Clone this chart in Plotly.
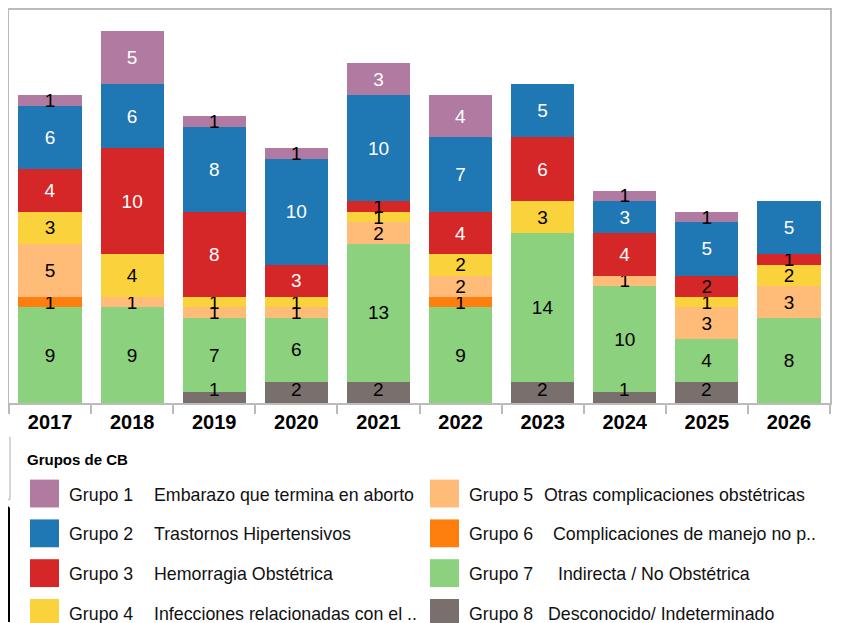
import plotly.graph_objects as go

years = ["2017", "2018", "2019", "2020", "2021", "2022", "2023", "2024", "2025", "2026"]

grupo1 = [1, 5, 1, 1, 3, 4, 0, 1, 1, 0]
grupo2 = [6, 6, 8, 10, 10, 7, 5, 3, 5, 5]
grupo3 = [4, 10, 8, 3, 1, 4, 6, 4, 2, 1]
grupo4 = [3, 4, 1, 1, 1, 2, 3, 0, 1, 2]
grupo5 = [5, 1, 1, 1, 2, 2, 0, 1, 3, 3]
grupo6 = [1, 0, 0, 0, 0, 1, 0, 0, 0, 0]
grupo7 = [9, 9, 7, 6, 13, 9, 14, 10, 4, 8]
grupo8 = [0, 0, 1, 2, 2, 0, 2, 1, 2, 0]

group_names = ["Grupo 1", "Grupo 2", "Grupo 3", "Grupo 4",
               "Grupo 5", "Grupo 6", "Grupo 7", "Grupo 8"]
group_desc = ["Embarazo que termina en aborto", "Trastornos Hipertensivos",
              "Hemorragia Obstétrica", "Infecciones relacionadas con el ..",
              "Otras complicaciones obstétricas", "Complicaciones de manejo no p..",
              "Indirecta / No Obstétrica", "Desconocido/ Indeterminado"]
legend_title = "Grupos de CB"

series = [grupo1, grupo2, grupo3, grupo4, grupo5, grupo6, grupo7, grupo8]
colors = ["#B07AA1", "#1F77B4", "#D62728", "#F9D23C",
          "#FFBB78", "#FF7F0E", "#8CD17D", "#79706E"]
dark = [True, True, True, False, False, False, False, False]

FONT = "Arial, Liberation Sans, sans-serif"

fig = go.Figure()
# stack from bottom: Grupo 8 ... Grupo 1
for i in reversed(range(8)):
    vals = series[i]
    if i == 7:
        txt = [""] * len(vals)  # bottom-segment labels drawn as annotations on top
    else:
        txt = [str(v) if v else "" for v in vals]
    tcol = [("white" if (dark[i] and v >= 3) else "black") for v in vals]
    fig.add_trace(go.Bar(
        x=years, y=vals, name=group_names[i], marker_color=colors[i],
        marker_line_width=0, text=txt, textposition="inside", textangle=0,
        insidetextanchor="middle", constraintext="none",
        textfont=dict(family=FONT, size=19, color=tcol),
        showlegend=False, hoverinfo="skip", cliponaxis=False,
    ))

# page body has an 8px margin: figure sits at (8, 8) in the screenshot
OFF = 8
W, H = 850 - OFF, 623 - OFF
L, R, T, B = 9 - OFF, 830 - OFF, 0, 403 - OFF


def px(x):
    return (x - OFF - L) / (R - L)


def py(y):
    return (B - (y - OFF)) / (B - T)


shapes = []
annotations = []

# labels of the bottom (Grupo 8) segments, kept inside the plot area
# (category axis: annotation x uses the category's serial number)
for j, v in enumerate(grupo8):
    if v:
        annotations.append(dict(text=str(v), x=j, y=0, xref="x", yref="y",
                                xanchor="center", yanchor="bottom", yshift=1,
                                showarrow=False,
                                font=dict(family=FONT, size=19, color="black")))

# fragments on the left below plot
shapes.append(dict(type="line", xref="paper", yref="paper", x0=px(10), x1=px(10),
                   y0=py(437), y1=py(500), line=dict(color="#C8C8C8", width=1.5)))
shapes.append(dict(type="line", xref="paper", yref="paper", x0=px(8), x1=px(10),
                   y0=py(500), y1=py(500), line=dict(color="#C8C8C8", width=1.5)))
shapes.append(dict(type="line", xref="paper", yref="paper", x0=px(8), x1=px(9),
                   y0=py(508), y1=py(508), line=dict(color="black", width=2)))
shapes.append(dict(type="line", xref="paper", yref="paper", x0=px(9), x1=px(9),
                   y0=py(508), y1=py(623), line=dict(color="black", width=2)))

annotations.append(dict(text="<b>" + legend_title + "</b>", xref="paper", yref="paper",
                        x=px(25), y=py(460), xanchor="left", yanchor="middle",
                        showarrow=False, font=dict(family=FONT, size=15, color="black")))

row_y = [495, 535, 575, 615]
desc_x = [152, 152, 152, 152, 542, 551, 556, 546]
for i in range(8):
    col = i // 4
    row = i % 4
    sx = 30 if col == 0 else 430
    cy = row_y[row]
    shapes.append(dict(type="rect", xref="paper", yref="paper",
                       x0=px(sx), x1=px(sx + 29), y0=py(cy - 15), y1=py(cy + 13),
                       fillcolor=colors[i], line=dict(width=0)))
    annotations.append(dict(text=group_names[i], xref="paper", yref="paper",
                            x=px(sx + 37), y=py(cy), xanchor="left", yanchor="middle",
                            showarrow=False, font=dict(family=FONT, size=17.8, color="#111")))
    annotations.append(dict(text=group_desc[i], xref="paper", yref="paper",
                            x=px(desc_x[i]), y=py(cy), xanchor="left", yanchor="middle",
                            showarrow=False, font=dict(family=FONT, size=17.8, color="#111")))

fig.update_layout(
    width=W, height=H,
    margin=dict(l=L, r=W - R, t=T, b=H - B, pad=0),
    barmode="stack", bargap=0.23,
    plot_bgcolor="white", paper_bgcolor="white",
    shapes=shapes, annotations=annotations,
    showlegend=False,
    xaxis=dict(type="category", showline=True, linecolor="#BBBBBB", linewidth=2,
               mirror=True, ticks="outside", tickson="boundaries", ticklen=9,
               tickcolor="#BBBBBB", tickwidth=2, showgrid=False,
               range=[-0.5, len(years) - 0.5],
               tickfont=dict(family=FONT, size=20, color="black", weight="bold")),
    yaxis=dict(range=[0, 37], showline=True, linecolor="#BBBBBB", linewidth=2,
               mirror=True, showticklabels=False, ticks="", showgrid=False,
               zeroline=False),
)

fig.write_html("out.html")
